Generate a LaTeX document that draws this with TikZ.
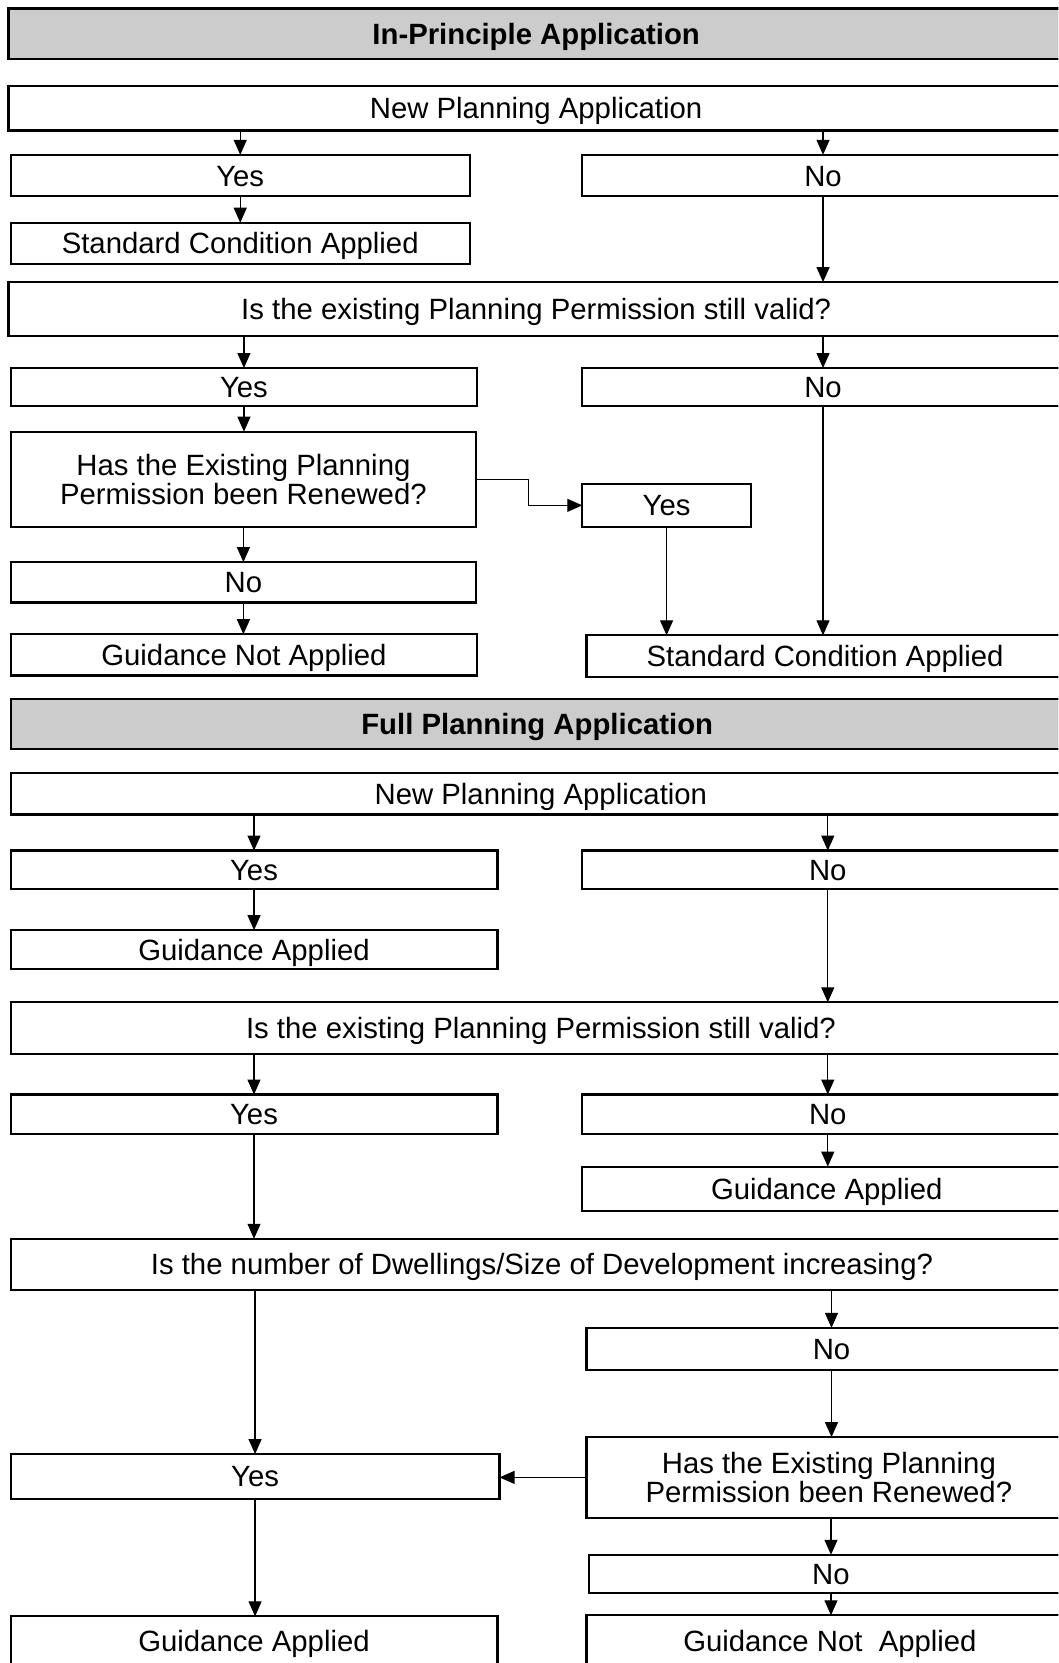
\documentclass[tikz,border=0pt]{standalone}
\usepackage{fontspec}
\setmainfont{Liberation Sans}
\usetikzlibrary{arrows.meta}
\definecolor{hdrgray}{RGB}{204,204,204}
\begin{document}
\begin{tikzpicture}[x=1.0601pt,y=-1.0601pt,
  box/.style={draw=black, line width=2.2pt, inner sep=0pt, outer sep=0pt, align=center,
    font=\fontsize{29.3}{29.5}\selectfont, text height=21pt, text depth=0pt},
  two/.style={text height={}, text depth={}},
  bx/.style args={#1/#2/#3/#4}{box, minimum width={(#3-#1)*1.0601pt},
    minimum height={(#4-#2)*1.0601pt}, at={({(#1+#3)/2},{(#2+#4)/2+2})}},
  hdr/.style={fill=hdrgray, font=\fontsize{29.3}{29.5}\selectfont\bfseries},
  arr/.style={line width=1.2pt, -{Triangle[length=15pt,width=13pt]}}]
\useasboundingbox (0,0) rectangle (998,1568);
\clip (0,0) rectangle (998,1568);
\fill[white] (0,0) rectangle (998,1568);
% ---------------- In-Principle Application
\node[bx=8/6/1003/54, hdr] (t1) {In-Principle Application};
\node[bx=8/79/1003/121] (n1) {New Planning Application};
\node[bx=10/144/443/183] (y1) {Yes};
\node[bx=549/144/1003/183] (no1) {No};
\node[bx=10/208/443/247] (s1) {Standard Condition Applied};
\node[bx=8/264/1003/315] (q1) {Is the existing Planning Permission still valid?};
\node[bx=10/345/450/381] (y2) {Yes};
\node[bx=549/345/1003/381] (no2) {No};
\node[bx=10/405/449/495, two] (h1) {Has the Existing Planning\\Permission been Renewed?};
\node[bx=549/454/708/495] (y3) {Yes};
\node[bx=10/528/449/566] (no3) {No};
\node[bx=10/596/450/635] (g1) {Guidance Not Applied};
\node[bx=553/597/1003/636] (s2) {Standard Condition Applied};
\coordinate (e1) at (498,452);
\coordinate (e2) at (498,476.5);

\draw[arr] (n1.south -| y1.north) -- (y1.north);
\draw[arr] (n1.south -| no1.north) -- (no1.north);
\draw[arr] (y1.south) -- (s1.north);
\draw[arr] (no1.south) -- (q1.north -| no1.south);
\draw[arr] (q1.south -| y2.north) -- (y2.north);
\draw[arr] (q1.south -| no2.north) -- (no2.north);
\draw[arr] (y2.south) -- (h1.north -| y2.south);
\draw[arr] (h1.south) -- (no3.north);
\draw[arr] (no3.south) -- (g1.north -| no3.south);
\draw[arr] (h1.east |- e1) -- (e1) -- (e2) -- (y3.west |- e2);
\draw[arr] (y3.south) -- (s2.north -| y3.south);
\draw[arr] (no2.south) -- (s2.north -| no2.south);

% ---------------- Full Planning Application
\node[bx=10/657/1003/704, hdr] (t2) {Full Planning Application};
\node[bx=10/727/1010/766] (n2) {New Planning Application};
\node[bx=10/800/469/836] (y4) {Yes};
\node[bx=549/800/1012/836] (no4) {No};
\node[bx=10/875/469/912] (ga1) {Guidance Applied};
\node[bx=10/943/1010/992] (q2) {Is the existing Planning Permission still valid?};
\node[bx=10/1030/469/1067] (y5) {Yes};
\node[bx=549/1030/1012/1067] (no5) {No};
\node[bx=549/1098/1010/1140] (ga2) {Guidance Applied};
\node[bx=10/1166/1012/1214] (q3) {Is the number of Dwellings/Size of Development increasing?};
\node[bx=553/1250/1015/1290] (no6) {No};
\node[bx=553/1353/1010/1429, two] (h2) {Has the Existing Planning\\Permission been Renewed?};
\node[bx=10/1369/471/1411] (y6) {Yes};
\node[bx=555/1464/1012/1500] (no7) {No};
\node[bx=553/1521/1012/1569] (gn2) {Guidance Not~ Applied};
\node[bx=10/1522/469/1569] (ga3) {Guidance Applied};

\draw[arr] (n2.south -| y4.north) -- (y4.north);
\draw[arr] (n2.south -| no4.north) -- (no4.north);
\draw[arr] (y4.south) -- (ga1.north);
\draw[arr] (no4.south) -- (q2.north -| no4.south);
\draw[arr] (q2.south -| y5.north) -- (y5.north);
\draw[arr] (q2.south -| no5.north) -- (no5.north);
\draw[arr] (no5.south) -- (ga2.north -| no5.south);
\draw[arr] (y5.south) -- (q3.north -| y5.south);
\draw[arr] (q3.south -| no6.north) -- (no6.north);
\draw[arr] (q3.south -| y6.north) -- (y6.north);
\draw[arr] (no6.south) -- (h2.north -| no6.south);
\draw[arr] (h2.west) -- (h2.west -| y6.east);
\draw[arr] (h2.south -| no7.north) -- (no7.north);
\draw[arr] (no7.south) -- (gn2.north -| no7.south);
\draw[arr] (y6.south) -- (ga3.north -| y6.south);
\end{tikzpicture}
\end{document}
